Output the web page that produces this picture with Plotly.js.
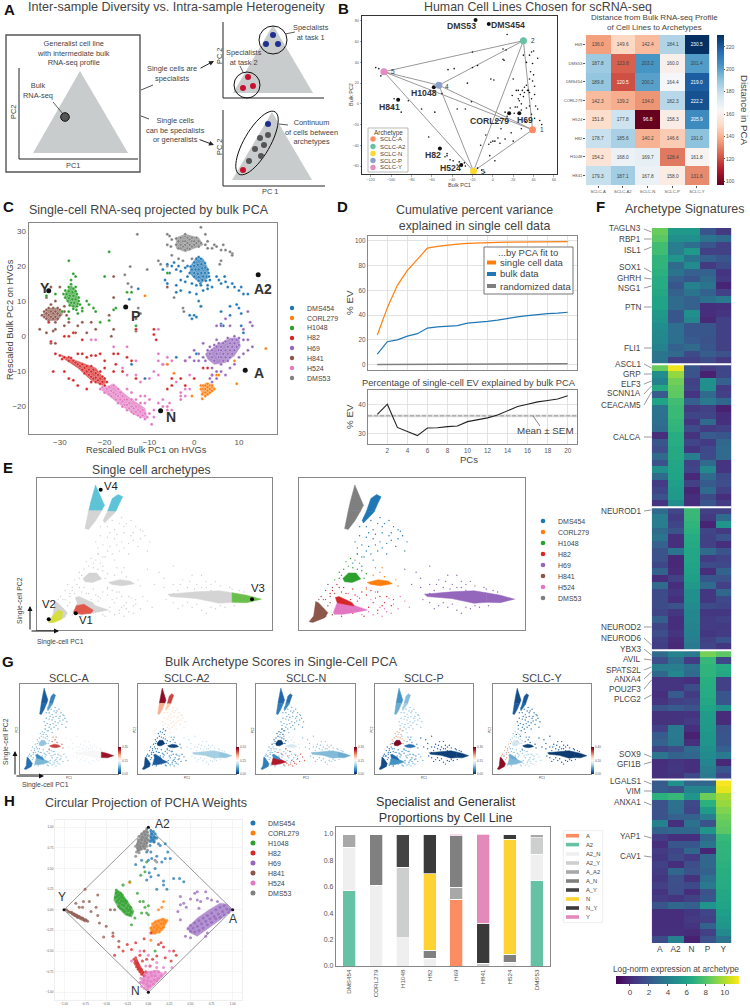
<!DOCTYPE html>
<html><head><meta charset="utf-8">
<script src="https://cdn.plot.ly/plotly-3.0.1.min.js"></script>
<style>html,body{margin:0;padding:0;background:#fff}#p{width:750px;height:1008px}</style></head>
<body><div id="p"></div>
<script>
// ---------- shared ----------
const lines=["DMS454","CORL279","H1048","H82","H69","H841","H524","DMS53"];
const lineColors=["#1f77b4","#ff7f0e","#2ca02c","#d62728","#9467bd","#8c564b","#e377c2","#7f7f7f"];
// ---------- panel B ----------
const bArchNames=["SCLC-A","SCLC-A2","SCLC-N","SCLC-P","SCLC-Y"];
const bArchColors=["#fc8d62","#66c2a5","#ffd92f","#8da0cb","#e78ac3"];
const bArchX=[39,30,-19,-53,-107];
const bArchY=[-25,61,-65,18,31];
const bLineX=[-17,-4,-93,-58,26,16,-52,-31];
const bLineY=[81,77,4,16,-9,-9,-43,-59];
const bDots=[[-115,35],[-112,34],[-110,27],[-98,-3],[-97,5],[-90,-8],[-83,3],[-70,-5],[-57,-8],[-63,-32],[-45,-48],[-47,-51],[-42,-54],[-39,-55],[-35,-59],[-27,-60],[-15,-62],[-11,-64],[-8,-66],[-4,-39],[-3,-50],[-2,-37],[0,-36],[2,-36],[5,-33],[7,-38],[2,-55],[-7,-30],[8,-24],[12,-34],[18,-28],[20,-36],[28,-24],[32,-17],[41,-14],[46,-16],[48,-20],[42,-2],[36,-2],[38,5],[41,9],[35,13],[30,7],[27,9],[25,5],[28,0],[22,-3],[21,-9],[17,-4],[12,-8],[14,-12],[7,-16],[3,-16],[26,3],[31,11],[34,13],[36,11],[23,13],[25,13],[29,13],[31,16],[33,18],[36,24],[37,31],[40,28],[39,22],[41,17],[30,47],[36,47],[40,51],[39,39],[44,44],[33,40],[38,50],[14,67],[13,52],[10,53],[10,43],[11,42],[-20,50],[-2,24],[-38,34],[-44,33],[-20,35],[-15,37],[-25,20],[-50,10],[-35,-5],[-27,-5],[-21,2],[1,23],[20,24],[-45,-50],[24,-3],[19,8],[28,-6],[33,-4],[38,-10],[44,-5],[-33,-56],[-28,-57],[-12,-40]];
const bCols=["SCLC-A","SCLC-A2","SCLC-N","SCLC-P","SCLC-Y"];
const bRows=["H69","DMS53","DMS454","CORL279","H524","H82","H1048","H841"];
const bZ=[[136.0,149.6,142.4,184.1,230.5],[187.8,123.8,203.2,160.0,201.4],[189.8,120.5,200.2,164.4,219.0],[142.3,139.2,134.0,182.3,222.2],[151.8,177.8,96.8,158.3,205.9],[178.7,185.6,140.2,146.6,191.0],[154.2,168.0,169.7,128.4,161.8],[179.3,187.1,167.8,158.0,131.6]];
// ---------- panel C ----------
const cDMS53=[[-4,26],[-3.5,27],[-3,28],[-3,26],[-3,25],[-2.5,27],[-2.5,25.5],[-2,28.5],[-2,27],[-2,26],[-2,24.5],[-1.5,28],[-1.5,26.5],[-1.5,25],[-1,27.5],[-1,26],[-1,24.8],[-0.5,28],[-0.5,27],[-0.5,25.5],[0,27],[0,26],[0.5,28],[0.5,26.5],[1,27],[1,25.5],[1.5,26.5],[-3.5,25],[-4,27.8],[-2,29],[1.5,31],[-6,29],[-5.5,28.5],[-5,27.5],[-5.2,25.5],[-6,26],[2.5,29],[3,27],[2.5,26],[3,25],[4.5,26],[4,25],[5,25.5],[6,24.5],[6.5,26],[7,24.5],[8,24],[8.5,23.5],[8.5,23],[6,21.5],[5.7,20.5],[-12.7,29],[-14.3,19.8],[-15.5,17.5],[-14.8,15],[-10.5,19],[-8,21.5],[-7.5,20.5],[-6,20],[-5,23],[-3.5,22],[-2.5,21.5],[-0.5,22],[-4.5,11],[-2.5,8],[-2.3,7],[1.5,8.5],[-12.5,8],[-12,6.5],[-14,14]];
const cDMS454=[[0,21],[0.5,22],[1,22.5],[1.5,22],[0,20],[0.8,20.3],[1.6,20.5],[2.4,20.8],[-0.5,19],[0.3,19],[1,19],[1.8,19.3],[2.5,19.5],[3,19],[-1,18],[0,18],[0.8,17.8],[1.6,18],[2.4,18],[3.2,18],[0,17],[1,16.8],[2,17],[2.8,17],[3.3,17],[1,15.8],[1.8,16],[2.6,15.8],[-0.8,19.8],[1.4,15],[-7,19],[-6,20.5],[-5.5,18],[-5,20],[-4.5,21],[-4,19],[-3.5,20],[-3,18.5],[-2,19.5],[-1.5,20],[-6.5,16],[-6,15],[-4,14.5],[-3,16],[-2,15.5],[-1.5,17],[-0.5,15],[0.5,14.5],[1.5,14.5],[3,14.5],[3.5,16],[4,14],[5,17],[5.5,16],[6,15],[6.8,17],[7,15.5],[7.5,14],[8.5,15],[9,14],[10,13],[10.5,14],[11,12],[12,12],[-4,12.5],[-3,13],[-1,12.5],[0.5,12],[2,13],[3,13.5],[1,10],[1.5,8.5],[-1,6],[-0.5,5],[0,6],[0.5,5.5],[-14.5,10.5],[-12.5,13.5],[-11,-12],[8,8.5],[9.5,9],[10,8],[10.5,6.5],[8,6],[6,7],[6,3.5],[6.5,3],[10.5,3],[11,1],[-14,-8],[-4,-6],[0.5,-5]];
const cH1048=[[-28,14],[-27.5,14.8],[-27,13.5],[-26.5,14],[-28.8,13],[-28,12.8],[-27.2,12.5],[-26.5,12.8],[-29.2,12],[-28.5,12],[-27.8,11.5],[-27,11.5],[-26.2,12],[-25.8,11],[-28.8,11],[-28,10.8],[-27.2,10.5],[-26.5,10.5],[-25.8,10],[-28.2,10],[-27.5,9.5],[-26.8,9.5],[-26,9.2],[-27.8,8.8],[-27,8.5],[-26.2,8.5],[-25.5,9],[-27,7.8],[-26.3,7.5],[-27.5,16],[-27,17.8],[-26.5,17],[-28,21.5],[-19,24],[-20,17],[-24,10],[-23.5,9],[-22.5,8],[-22,7],[-29.5,7],[-33,11.5],[-31,12],[-25,8],[-25,7.2],[-26,6.5],[-28,7],[-18,7.5],[-17.5,8],[-19,4.5],[-21,4],[-13,3],[-15,12.5],[-14,12.5],[-28,5],[-6,18]];
const cH82=[[-31,-5],[-30,-5.5],[-29.5,-6.5],[-29,-6],[-28,-6],[-28,-7],[-27.5,-6.2],[-27,-7],[-26.5,-7.5],[-26,-8],[-25.5,-8.5],[-25,-8],[-25,-9.5],[-24.5,-9],[-24.5,-10.5],[-24,-8.5],[-24,-10],[-23.5,-9.5],[-23.5,-11],[-23,-8.5],[-23,-10],[-23,-11.5],[-22.5,-9.5],[-22.5,-12],[-22,-10.5],[-22,-11.8],[-22,-13],[-21.5,-11],[-21.5,-12.5],[-21,-10],[-21,-12],[-21,-13.5],[-20.5,-11.5],[-20.5,-13],[-20,-12],[-20,-14],[-19.5,-13],[-26,-5],[-25,-5],[-24,-6],[-23,-5.5],[-22,-5.5],[-21,-5],[-20,-7],[-20,-9],[-18,-5],[-17,-5],[-15,-6],[-14,-7],[-32,-1.5],[-32.5,4],[-29,-10],[-31.5,-10],[-28,-12],[-27,-12.5],[-26,-14],[-24,-15],[-23,-13],[-18,-10],[-17.5,-8],[-16,-10],[-13,-12],[-27,1],[-29,0],[-28,0],[-25,-1],[-13,2],[-9,2],[-9,0.5],[-8.5,-1],[-7,-8],[-5,-12],[-3,-12],[-2,-7],[0,-12],[2,-9],[3,-9],[4,-11],[-2,-14],[-5,-14],[-6,-15]];
const cH69=[[3,-4],[3.5,-5],[3.5,-3],[4,-6],[4,-4],[4.5,-2.5],[4.5,-7],[5,-5],[5,-3],[5,-1],[5.5,-6],[5.5,-4],[5.5,-2],[6,-8],[6,-6],[6,-4],[6,-3],[6.5,-7],[6.5,-5],[6.5,-2],[7,-6],[7,-4],[7,-1.5],[7.5,-7],[7.5,-5],[7.5,-3],[7.5,-0.5],[8,-6],[8,-4],[8,-2],[8.5,-5],[8.5,-3],[8.5,-1],[9,-4],[9,-2],[9,0],[9.5,-3],[9.5,-1],[10,-2.5],[10,-0.5],[2,-6],[2.5,-7],[1,-7],[1,-5],[0,-4],[-1,-6],[-2,-7],[0,-7],[2,-2],[4,-9],[5,-10],[6,-10],[8,-9],[9,-8],[10,-6],[11,-5],[12,-4],[13,-3],[11,-1],[12,-1],[11,2],[7,5],[6,3],[8,3],[5,3],[12,7],[12.5,4],[13,3],[5,-12],[4,-11],[3.5,-12],[4,-13],[7,-11]];
const cH841=[[-34,6],[-33.5,7],[-33.5,5.5],[-33,7.5],[-33,6.5],[-33,5],[-32.5,8],[-32.5,6],[-32.5,4.5],[-32,7],[-32,5.5],[-31.5,8],[-31.5,6.5],[-31.5,5],[-31,7],[-31,5.5],[-31,4],[-30.5,6.5],[-30.5,5],[-30,7.5],[-30,6],[-29.5,7],[-29,7],[-30.5,8],[-32,9],[-31,10],[-33,11],[-30,14],[-32,14],[-34.5,2],[-33,1],[-31.5,1.5],[-31,2],[-29,3],[-28,4],[-28.5,6],[-25,4],[-26,3],[-26.5,1],[-23,4],[-22,2],[-24,1],[-31,-2],[-32,-2],[-29,8.5],[-18,17],[-19,6],[-18.5,-0],[-18,2],[-13,1.5],[-18,11],[-13,5],[-6,14]];
const cH524=[[-21,-15],[-20.5,-14.5],[-20,-16],[-19.5,-15],[-19,-16.5],[-19,-14.5],[-18.5,-17],[-18.5,-15.5],[-18,-16],[-18,-14],[-17.5,-18],[-17.5,-16.5],[-17,-19],[-17,-17],[-17,-15],[-16.5,-18],[-16.5,-16],[-16,-20],[-16,-18.5],[-16,-17],[-15.5,-19.5],[-15.5,-18],[-15,-21],[-15,-19.5],[-15,-18],[-14.5,-20.5],[-14.5,-19],[-14,-21.5],[-14,-20],[-14,-18],[-13.5,-22],[-13.5,-20.5],[-13,-21.5],[-13,-20],[-12.5,-22.5],[-12.5,-21],[-12,-23],[-12,-21.5],[-12,-19],[-11.5,-22.5],[-11.5,-21],[-11,-23.5],[-11,-22],[-11,-19],[-11,-17],[-10.5,-23],[-10,-22],[-9.5,-25],[-9,-23],[-10,-18],[-12,-17],[-14,-16],[-15,-15],[-13,-18],[-9,-21],[-8,-19],[-7,-18],[-7,-20],[-6,-20],[-6,-21],[-5.5,-19],[-5,-21],[-12,-13],[-13,-11],[-15,-11],[-16,-9],[-18,-3],[-22,-1],[-23,-1],[-8,-7],[-7,-8],[-6,-8],[-6,-6],[-5,-7],[-9,-10],[-8,-11],[-10,-12],[-4,-13],[-3,-16],[-3,-17],[-3,-18],[-2,-15],[-2,-17],[-1,-15],[-1,-11],[-13,-7],[-8,-5],[-8,2],[-15,-3]];
const cCORL279=[[1.5,-15],[1.5,-14],[2,-16],[2,-15],[2,-14],[2.5,-17],[2.5,-16],[2.5,-15],[2.5,-14],[3,-16.5],[3,-15.5],[3,-14.5],[3,-13.5],[3.5,-16],[3.5,-15],[3.5,-14],[4,-15.5],[4,-14.5],[4,-14],[1.8,-16.5],[4.5,-15],[-0.5,-17],[1.8,-17.8],[5,-11],[5.5,-11],[9.5,-13.5],[16,-3.5],[-6,-8],[-4.5,-10.5],[9,-7],[-11,11.5]];
const cCores=[
[7,[[-4,25],[-4,28],[-2,29],[1,28],[2,26],[0,25],[-2,24]]],
[0,[[-0.8,20],[0.5,22.5],[2,22],[3.2,19],[3,16.5],[1.5,15],[0,16.5],[-1,18]]],
[2,[[-29,12],[-27.5,14.5],[-26.3,13],[-25.8,9.5],[-26.5,8],[-27.5,8.5],[-28.5,10]]],
[5,[[-34,6],[-32.5,8],[-30.5,8],[-29.3,6.5],[-30.5,4.5],[-32.5,4.5]]],
[3,[[-30,-5.2],[-26,-7],[-22,-9],[-19.5,-13],[-20.5,-14],[-23,-12.5],[-26,-9],[-29,-6.5]]],
[6,[[-21,-15],[-18,-13.5],[-15,-17],[-11,-20.5],[-10.5,-23.5],[-13,-22.5],[-16,-20],[-19,-17]]],
[4,[[2.5,-5],[5,-2.5],[8,-0.5],[10,-0.5],[10.3,-3],[9,-5.5],[7,-7.5],[4.5,-8],[3,-6.5]]],
[1,[[1.3,-15],[2.5,-13.3],[4,-13.7],[4.7,-15],[3.5,-16.5],[2.2,-17]]]];
const cMarksX=[-32.5,14.3,-15.3,11.4,-7.5];
const cMarksY=[12.9,17.5,8.3,-9.7,-21.2];
// ---------- panel D ----------
const pcs=[1,2,3,4,5,6,7,8,9,10,11,12,13,14,15,16,17,18,19,20];
const evSingle=[24,46,64,76,85,94,95.5,96.5,97.3,97.8,98.2,98.5,98.7,98.8,98.9,99,99,99,99.1,99.2];
const evBulk=[8.5,18.5,20,23,25,29.5,30.5,31,31.5,33.5,34,35,36,37.5,38.5,39.5,40.5,41.2,41.6,42.3];
const evRandom=[0.05,0.1,0.1,0.15,0.2,0.25,0.3,0.3,0.35,0.4,0.45,0.5,0.5,0.55,0.6,0.6,0.65,0.7,0.75,0.8];
const evRatio=[36.5,40,32,30.5,29.2,31.8,31.9,32.3,32.5,34,34.6,35.3,36.3,37.8,39.2,40,40.8,41.3,41.8,42.9];
const evMean=36, evSem=0.5;
// ---------- panel E/G single-cell PCA (frame-percent units) ----------
const polyNames=["DMS53top","DMS53low","DMS454top","DMS454low","H1048","CORL279","H69L","H69R","H841","H524","H82"];
const polyPts=[
[[24.9,95.4],[26.5,90],[28.7,82.1],[27.5,78.5],[22,78.5],[22.9,84.3]],
[[22,78.5],[27.5,78.5],[25,72],[22,66.2],[20.4,66.7]],
[[34.5,89.2],[36.5,87.6],[35,83],[33.5,78],[30,78],[32,86.5]],
[[30,78],[33.5,78],[32.8,76.6],[28.7,70.4],[28.2,72.2]],
[[19.6,33.9],[22.1,37.5],[25.4,37.5],[27.5,33.5],[23.7,31.3],[20.4,31.7]],
[[30.4,31.3],[35.3,33.1],[39.5,32.2],[41.5,30.4],[36.2,29.1],[32,30]],
[[55.7,23.6],[67.7,25.1],[77.6,25.8],[83,24.5],[83,18.2],[77.6,17.6],[67.7,20.7],[56.9,22]],
[[83,24.5],[89.2,22.9],[95.5,20.3],[89.2,18],[83,18.2]],
[[4.7,5.5],[6.7,9.2],[7.6,18.7],[8.8,18],[13,11.4],[11.6,8.1],[6.3,5]],
[[15.4,11.4],[17.1,18],[21.2,18],[30.4,13.2],[26.2,11.9],[19.6,10.3],[15.9,10.3]],
[[16.3,21.4],[17.9,22],[23.7,18],[24.6,15.8],[20.4,17],[17.1,18]]];
const polyColors=["#7f7f7f","#7f7f7f","#1f77b4","#1f77b4","#2ca02c","#ff7f0e","#9467bd","#9467bd","#8c564b","#e377c2","#d62728"];
const eLeftColors=["#5cc4d6","#d4d4d4","#5cc4d6","#d4d4d4","#d4d4d4","#d4d4d4","#d4d4d4","#6abf4b","#d4d4d4","#d4d4d4","#d4d4d4"];
const eV1=[[15.4,11.4],[16.8,16],[20,17],[24,13],[23,11],[19,10.3]];
const eV2=[[5,5],[6.5,9],[9,13],[11,12],[10.5,7],[7,4.8]];
const eDMS454=[[29,74],[32,72],[36,74],[38,70],[42,68],[45,65],[46,62],[30,68],[33,66],[37,64],[40,62],[44,60],[48,58],[27,62],[30,61],[33,60],[36,58],[39,57],[43,55],[47,52],[28,56],[31,55],[35,52],[39,50],[26,50],[29,48],[33,46],[24,44],[28,42],[37,68],[41,64],[27,68],[35,70],[31,64],[25,58],[34,56],[41,59],[26,54],[37,54],[30,52],[32,50],[44,66],[40,72],[34,63]];
const eH1048=[[22,42],[24,41],[27,44],[20,40],[28,39],[25,46],[30,37],[18,38],[26,50],[29,34],[16,33],[19,36],[23,47],[21,45],[26,40],[28,48]];
const eCORL279=[[33,36],[36,38],[38,35],[34,41],[44,29],[30,27],[43,33],[37,41]];
const eH82=[[15,26],[18,28],[21,24],[24,27],[27,21],[30,23],[26,19],[33,18],[36,22],[22,32],[17,30],[14,24],[31,15],[29,9],[38,18],[35,13],[24,11],[41,16],[28,25],[12,20],[20,28],[25,23],[32,26],[35,25],[39,22],[19,25],[23,20],[34,21],[37,16],[42,20]];
const eH69=[[52,38],[54,34],[58,30],[62,33],[66,36],[70,36],[72,32],[60,26],[68,30],[74,30],[78,29],[64,28],[58,18],[60,14],[62,16],[66,15],[70,13],[72,11],[76,14],[80,15],[84,16],[86,26],[82,28],[76,32],[54,28],[50,30],[47,40],[58,42],[55,20],[65,32],[70,28],[72,28],[74,26],[67,27],[61,30],[68,17],[74,15],[78,16],[64,18],[58,24],[83,27],[88,25]];
const eH841=[[10,22],[12,26],[14,18],[16,24],[9,20],[13,30],[18,34],[11,14],[15,10],[17,16],[19,9],[12,9],[11,20],[14,22],[13,16],[15,28]];
const eH524=[[32,20],[36,15],[39,12],[42,17],[44,14],[47,19],[33,10],[28,10],[37,9],[26,22],[22,24],[45,22],[49,15],[34,25],[30,28],[40,21],[31,12],[35,11],[38,14],[41,11]];
const eMarkX=[27.1,91.5,16.5,5];
const eMarkY=[92.2,20.2,11,7];
const gNames=["SCLC-A","SCLC-A2","SCLC-N","SCLC-P","SCLC-Y"];
const gPolyScore=[
[.08,.1,.16,.22,.3,.84,.5,.93,.12,.27,.18],
[.95,.68,.84,.62,.02,.04,.33,.3,.05,.08,.08],
[.1,.15,.12,.18,.02,.42,.28,.25,.15,.9,.18],
[.2,.25,.28,.33,.97,.12,.03,.03,.05,.2,.1],
[.05,.08,.07,.1,.4,.03,.02,.02,.95,.28,.25]];
const gLineScore=[ // DMS454,CORL279,H1048,H82,H69,H841,H524
[.25,.8,.3,.28,.45,.3,.3],
[.6,.2,.15,.2,.38,.15,.2],
[.25,.4,.12,.3,.3,.25,.8],
[.3,.2,.7,.2,.1,.12,.25],
[.14,.1,.35,.3,.1,.7,.35]];
const gTicks=[[0,0.15,0.30],[0,0.25,0.50],[0,0.15,0.30],[0,0.15,0.30],[0,0.2,0.4]];
// ---------- panel F ----------
const fCols=["A","A2","N","P","Y"];
const fZ=[
[8.5,5.5,5.4,2,0.7],[8.2,5,5,3.5,3],[7.5,4,3.2,2,1],[7.5,4,5.5,1,1],[7,5.2,3.5,2.5,2],[7,3,4.7,0.7,1.5],[6.8,3.5,2.5,2.5,0.5],[6.5,2.5,2,3,0.7],[6.5,2,4.2,3.5,-0.2],[6.3,2.5,3.5,2.5,1],[6,3,2.5,3.3,3.8],[6,3,2.5,0.2,0.3],[5.5,2,5,0.2,0.5],[5.2,2,4.5,0,1],[4.8,3.2,2,2,1],[4.6,3.2,2,2,1],[4.5,3.3,2.2,1.8,1],[4.2,2.5,3,2,1],[3.5,3,1.5,2.3,1.8],[3.5,1,1,1.5,0.7],
[8.5,11.2,2,0.8,1.2],[4.8,9.4,1.8,-0.3,1.3],[4.2,8.7,1,5,2.5],[6.3,8.4,1.2,5,0.8],[2.2,8.3,0.5,3,1],[6,7.5,2.4,3.8,2.8],[3.5,7.3,0.7,1,-0.3],[3.4,7.3,1.2,1.2,0.2],[3.2,7.1,0.5,3,0.3],[3,7,1.5,0.8,1],[0.2,6.6,0.4,2.2,2],[2,6.6,1.2,0.8,2.8],[1.6,6.4,0.5,1.4,3],[3,6.4,4,1.5,3],[1.8,6.2,1,3,0.5],[5,6.1,1.2,4.6,0.5],[3,6,0,3,1.5],[0.8,5.8,1,2.2,1.6],[1.2,5.6,-0.1,3,1],[1.8,5.4,0.2,1.5,0.2],[0.5,4.8,0.2,2,0.8],
[3,1.3,7.3,1,1],[4,0.8,7.2,0.7,3],[4,1.2,7,-0.2,5.2],[3,1.8,6.8,1.2,0.7],[3.5,0.3,6.5,1,1.8],[2.5,0.3,6.4,1,0.3],[1.9,3.5,6.2,3,1.9],[1.8,0,6.2,0.8,1.2],[1.3,0,6,1.5,1.4],[2.6,0.1,5.9,0.2,2.6],[0.2,1,5.8,2,1.8],[3,0.2,5.5,3,1],[1.5,0.6,5,0.6,2.8],[1.5,0.3,5,0.6,1.4],[1.5,1.8,4.7,1.5,1.2],[1.2,0.6,4.5,0.6,0.6],[2.4,0.2,4.5,0.8,1],[1.2,0.2,4.3,0.8,0.7],[1.6,0.5,4.2,0.6,0.8],[1,0.1,4,1,1.8],[0.9,0,3.8,1.2,0.6],
[3,4.3,3.8,8.8,8.2],[1.6,3.2,0.8,7.2,1.3],[4,4,3.3,7,6.5],[2.8,4.5,3,7,6.3],[0.5,0.5,0.3,6.7,1],[0.5,0.5,1.5,6.6,1],[0.3,2.2,0.8,6.5,2],[0.5,1,1.2,6.3,2],[1.8,2.2,1.8,6,5],[0.4,0.4,0.5,5.7,0.1],[0.4,0.4,0.8,5.6,0.1],[1,3.8,0.3,5.5,1.8],[2.2,3.8,-0.3,5.3,2],[2.5,3.7,0.3,5.2,2],[1.2,1.6,3,5,2.5],[3.6,2.6,2.8,4.7,3.8],[0.2,0.5,0.3,4.4,0],[0.3,0.6,0.3,4,2],[0.3,0.4,1.4,3.8,1.2],
[2.2,5,2.8,2.8,11.4],[2.2,1.8,4.4,4.4,11],[6.8,7.2,5.2,8.6,9.8],[1.8,3.4,1.4,6.8,9.5],[1.8,3.2,1.2,5.6,9],[1.8,2.5,2.5,4,8.6],[4.2,0.3,3.4,1.8,8.4],[2.6,2.8,2.8,5.2,8.2],[0.8,0.3,0.3,2.8,7.2],[0.3,2,2,3.5,7],[0.8,1.2,2.8,-0.1,7],[0.6,1.5,0.8,2.8,6.9],[1,0.2,1.6,2.8,6.8],[0.8,2.8,1.8,2.5,6.7],[0.6,1.7,0.4,3.2,6.6],[1,1.6,1.4,3.8,6.5],[0.5,1.6,0.2,1.8,6.3],[0.8,0.5,1,2,6.2],[2,2.8,2.4,5.2,6],[0.2,0.2,0.6,1.2,5.8],[0.2,0.2,0.7,1,5.5],[0.2,0.2,0.5,2.6,5.2],[0.3,0.3,0.1,1,4.6],[1.5,4.2,-0.3,1.8,3.5]];
const fGeneNames=["TAGLN3","RBP1","ISL1","SOX1","GHRH","NSG1","PTN","FLI1","ASCL1","GRP","ELF3","SCNN1A","CEACAM5","CALCA","NEUROD1","NEUROD2","NEUROD6","YBX3","AVIL","SPATS2L","ANXA4","POU2F3","PLCG2","SOX9","GFI1B","LGALS1","VIM","ANXA1","YAP1","CAV1"];
const fGeneLabelY=[229,239,250,268,278,288,307,348,364,374,384,394,405,437,511,627,638,649,659,670,679,689,699,754,764,781,791,802,836,856];
const fGeneRowY=[232,239,247,272,279,286,307,348,368,374,381,386,392,437,510,627,645,655,660,667,672,680,695,757,762,784,791,805,838,857];
const fBlockRows=[20,21,21,19,24];
// ---------- panel H left ----------
const hAX=[1,0,-1,0], hAY=[0,1,0,-1];
const hDMS53=[[-0.02,0.98],[-0.05,0.95],[-0.01,0.94],[-0.08,0.92],[-0.04,0.91],[0,0.9],[-0.11,0.89],[-0.07,0.88],[-0.03,0.87],[-0.12,0.85],[-0.08,0.85],[-0.04,0.84],[0,0.85],[-0.12,0.82],[-0.09,0.81],[-0.05,0.8],[-0.02,0.81],[-0.13,0.79],[-0.1,0.77],[-0.06,0.77],[-0.13,0.75],[-0.09,0.74],[-0.04,0.74],[-0.12,0.72],[-0.15,0.77],[-0.14,0.7],[-0.11,0.69],[-0.15,0.65],[0.1,0.58],[0.08,0.6],[-0.02,0.77],[-0.01,0.72]];
const hDMS454=[[0.03,0.96],[0.06,0.95],[0.04,0.92],[0.08,0.92],[0.03,0.88],[0.07,0.88],[0.05,0.85],[0.1,0.87],[0.02,0.83],[0.07,0.82],[0.12,0.8],[0.02,0.78],[-0.02,0.7],[0.03,0.7],[0.14,0.78],[0.2,0.8],[0.23,0.7],[0.26,0.62],[0.2,0.62],[0.16,0.58],[0.1,0.65],[0.04,0.62],[0,0.6],[-0.08,0.6],[-0.15,0.55],[-0.05,0.52],[0.08,0.5],[0.12,0.42],[0.03,0.4],[0.18,0.35],[0.3,0.38],[0.37,0.38],[0.42,0.34],[0.22,0.25],[0.1,0.25],[0.18,0.3],[0.01,0.45],[-0.02,0.36]];
const hH1048=[[-0.38,0.2],[-0.37,0.16],[-0.36,0.22],[-0.36,0.12],[-0.35,0.18],[-0.34,0.08],[-0.34,0.14],[-0.33,0.2],[-0.33,0.02],[-0.32,0.11],[-0.32,0.16],[-0.31,0.06],[-0.31,0.18],[-0.3,0],[-0.3,0.1],[-0.3,0.14],[-0.29,0.05],[-0.28,0.12],[-0.28,-0.02],[-0.27,0.08],[-0.26,0.02],[-0.26,0.1],[-0.25,-0.05],[-0.24,0.05],[-0.24,-0.01],[-0.22,0],[-0.22,-0.06],[-0.2,-0.03],[-0.37,0.1],[-0.35,0.04],[-0.39,0.15],[-0.21,0.03],[-0.38,0.24],[-0.3,0.3],[-0.3,0.3],[-0.22,0.34],[-0.13,0.2],[-0.1,0.1],[-0.06,0.1],[-0.04,0.03],[-0.02,-0.04],[-0.08,-0.04],[0,-0.06],[-0.16,-0.1],[-0.2,-0.18],[0.08,-0.5],[-0.02,0.58],[-0.04,0.46],[-0.09,0.42],[0,0.05]];
const hCORL279=[[0.03,-0.22],[0.05,-0.17],[0.05,-0.25],[0.07,-0.21],[0.08,-0.15],[0.08,-0.27],[0.1,-0.19],[0.1,-0.24],[0.12,-0.14],[0.12,-0.21],[0.13,-0.27],[0.15,-0.17],[0.15,-0.23],[0.16,-0.12],[0.18,-0.17],[0.18,-0.21],[0.2,-0.15],[0.19,-0.12],[0.05,-0.28],[0.22,-0.13],[0.18,0.1],[0.16,0.03],[0.12,0],[-0.22,0.33],[0.03,-0.37]];
const hH82=[[-0.17,-0.6],[-0.16,-0.64],[-0.15,-0.66],[-0.14,-0.61],[-0.14,-0.69],[-0.13,-0.64],[-0.12,-0.72],[-0.12,-0.67],[-0.11,-0.7],[-0.1,-0.75],[-0.09,-0.72],[-0.08,-0.78],[-0.08,-0.73],[-0.06,-0.76],[-0.05,-0.8],[-0.03,-0.75],[-0.15,-0.58],[-0.1,-0.55],[-0.05,-0.5],[-0.02,-0.6],[-0.07,-0.62],[0.02,-0.68],[0.05,-0.6],[0.1,-0.56],[0.12,-0.42],[0.15,-0.4],[0.18,-0.45],[-0.25,-0.42],[-0.3,-0.5],[-0.35,-0.45],[-0.42,-0.32],[-0.4,-0.55],[-0.2,-0.48],[-0.15,-0.4],[0.3,-0.5],[0.33,-0.55],[0.2,-0.58],[0.27,-0.62],[-0.05,-0.35],[0.03,-0.28]];
const hH69=[[0.47,-0.23],[0.5,-0.26],[0.5,-0.19],[0.53,-0.22],[0.55,-0.16],[0.55,-0.27],[0.58,-0.2],[0.6,-0.13],[0.6,-0.25],[0.63,-0.17],[0.65,-0.1],[0.65,-0.22],[0.68,-0.14],[0.7,-0.07],[0.7,-0.18],[0.73,-0.11],[0.75,-0.04],[0.75,-0.15],[0.78,-0.08],[0.8,0],[0.8,-0.11],[0.83,-0.05],[0.85,0.03],[0.85,-0.09],[0.88,-0.02],[0.9,0.05],[0.9,-0.06],[0.93,0.01],[0.95,-0.03],[0.97,0],[0.58,0.12],[0.55,0.2],[0.58,0.22],[0.68,0.22],[0.7,0.14],[0.62,0.1],[0.75,0.12],[0.82,0.1],[0.38,0.16],[0.38,0.06],[0.42,0.08],[0.35,-0.02],[0.38,-0.12],[0.44,-0.32],[0.5,-0.34],[0.7,-0.28],[0.68,-0.32],[0.45,0.03],[0.5,0.13],[0.6,0.02]];
const hH841=[[-0.97,0],[-0.95,-0.02],[-0.93,-0.03],[-0.91,-0.03],[-0.9,-0.05],[-0.88,-0.05],[-0.87,-0.07],[-0.85,-0.07],[-0.84,-0.09],[-0.82,-0.08],[-0.8,-0.1],[-0.78,-0.1],[-0.76,-0.12],[-0.74,-0.12],[-0.72,-0.14],[-0.86,0.08],[-0.82,0.03],[-0.78,0.03],[-0.77,0.1],[-0.75,0.25],[-0.7,0.1],[-0.68,-0.02],[-0.62,0.03],[-0.6,0.18],[-0.58,-0.16],[-0.6,-0.07],[-0.53,-0.33],[-0.45,0],[-0.4,0],[-0.42,-0.28],[-0.35,-0.38],[-0.5,-0.2]];
const hH524=[[-0.08,-0.93],[-0.05,-0.95],[-0.02,-0.97],[0,-0.93],[-0.06,-0.88],[-0.02,-0.9],[0.02,-0.92],[0.06,-0.9],[0.1,-0.86],[-0.09,-0.83],[-0.05,-0.85],[-0.01,-0.86],[0.03,-0.87],[0.07,-0.85],[0.12,-0.83],[0.15,-0.8],[-0.04,-0.8],[0,-0.82],[0.04,-0.8],[0.08,-0.8],[-0.02,-0.76],[0.03,-0.76],[0.07,-0.75],[0.12,-0.75],[-0.1,-0.88],[0.2,-0.76],[0.18,-0.7],[0.28,-0.7],[0.02,-0.68],[-0.03,-0.68],[0.1,-0.7],[0.1,-0.64],[-0.1,-0.5],[-0.2,-0.62],[0.25,-0.5],[0,-0.55]];
const hCores=[
[2,[[-0.39,0.24],[-0.33,0.22],[-0.24,0.1],[-0.17,-0.02],[-0.2,-0.09],[-0.28,-0.06],[-0.36,0.03],[-0.41,0.12]]],
[1,[[0.02,-0.22],[0.08,-0.13],[0.18,-0.1],[0.22,-0.15],[0.17,-0.25],[0.08,-0.3],[0.03,-0.28]]],
[4,[[0.46,-0.22],[0.58,-0.1],[0.72,0],[0.85,0.08],[0.93,0.07],[0.99,0],[0.88,-0.1],[0.72,-0.22],[0.58,-0.32],[0.5,-0.28]]],
[5,[[-0.98,0],[-0.85,-0.05],[-0.72,-0.13],[-0.75,-0.15],[-0.88,-0.08]]],
[6,[[0,-0.98],[0.2,-0.78],[0.1,-0.73],[-0.03,-0.75],[-0.1,-0.88]]],
[3,[[-0.17,-0.6],[-0.12,-0.63],[-0.05,-0.76],[-0.07,-0.8],[-0.13,-0.72]]],
[0,[[0.02,0.96],[0.1,0.88],[0.07,0.81],[0.02,0.82]]],
[7,[[-0.01,0.98],[0,0.82],[-0.04,0.74],[-0.13,0.7],[-0.14,0.8],[-0.08,0.92]]]];
// ---------- panel H right ----------
const barLines=["DMS454","CORL279","H1048","H82","H69","H841","H524","DMS53"];
const barA=[0,0,0,0,.505,0,0,0];
const barA2=[.57,0,0,0,0,0,0,.65];
const barA2_N=[.33,.61,.215,.06,0,0,.03,.195];
const barA2_Y=[0,0,.535,0,0,.02,0,.125];
const barA_A2=[.10,0,0,0,.09,0,0,.03];
const barA_N=[0,.39,0,.06,.39,0,.06,0];
const barA_Y=[0,0,.25,0,0,0,0,0];
const barN=[0,0,0,.58,0,0,.87,0];
const barN_Y=[0,0,0,.30,0,.305,.04,0];
const barY=[0,0,0,0,0.015,.675,0,0];
const barNames=["A","A2","A2_N","A2_Y","A_A2","A_N","A_Y","N","N_Y","Y"];
const barSeries=[barA,barA2,barA2_N,barA2_Y,barA_A2,barA_N,barA_Y,barN,barN_Y,barY];
const barColors=["#fc8d62","#66c2a5","#efefef","#cdcfcf","#a8a8a8","#808080","#444444","#ffd233","#3a3a3a","#e38abb"];

// ---------- helpers ----------
const W=750,H=1008,FONT="Liberation Sans, Arial, sans-serif",TXT="#444";
const fx=x=>x/W, fy=y=>1-y/H;
const traces=[],shapes=[],anns=[],layout={width:W,height:H,margin:{l:0,r:0,t:0,b:0,pad:0},paper_bgcolor:"#fff",plot_bgcolor:"#fff",showlegend:false,font:{family:FONT,color:TXT},shapes,annotations:anns};
let axN=0;
function axes(x0,y0,x1,y1,xo,yo){axN++;const s=axN===1?"":axN;
 const base={showgrid:false,zeroline:false,showline:true,mirror:true,linecolor:"#888",linewidth:1,ticks:"",fixedrange:true};
 layout["xaxis"+s]=Object.assign({},base,{domain:[fx(x0),fx(x1)],anchor:"y"+s},xo);
 layout["yaxis"+s]=Object.assign({},base,{domain:[fy(y1),fy(y0)],anchor:"x"+s},yo);
 return {xaxis:"x"+s,yaxis:"y"+s};}
function T(x,y,text,size,o){o=o||{};anns.push({xref:"paper",yref:"paper",x:fx(x),y:fy(y),text,showarrow:false,xanchor:o.a||"center",yanchor:"middle",align:o.align||(o.a==="left"?"left":o.a==="right"?"right":"center"),textangle:o.rot||0,font:{family:FONT,size,color:o.c||TXT,weight:o.w||400}});}
function L(x0,y0,x1,y1,c,w,dash){shapes.push({type:"line",xref:"paper",yref:"paper",x0:fx(x0),y0:fy(y0),x1:fx(x1),y1:fy(y1),line:{color:c||"#333",width:w||0.8,dash:dash||"solid"},layer:"above"});}
function C(cx,cy,r,fill,line,lw){shapes.push({type:"circle",xref:"paper",yref:"paper",x0:fx(cx-r),x1:fx(cx+r),y0:fy(cy+r),y1:fy(cy-r),fillcolor:fill||"rgba(0,0,0,0)",line:{color:line||fill,width:lw===undefined?0:lw},layer:"above"});}
function R(x0,y0,x1,y1,fill,line,lw){shapes.push({type:"rect",xref:"paper",yref:"paper",x0:fx(x0),x1:fx(x1),y0:fy(y1),y1:fy(y0),fillcolor:fill||"rgba(0,0,0,0)",line:{color:line||"rgba(0,0,0,0)",width:lw||0},layer:"above"});}
function P(pts,fill,line,lw){shapes.push({type:"path",xref:"paper",yref:"paper",path:"M"+pts.map(p=>fx(p[0])+","+fy(p[1])).join("L")+"Z",fillcolor:fill||"rgba(0,0,0,0)",line:{color:line||"rgba(0,0,0,0)",width:lw||0},layer:"above"});}
function Arrow(x0,y0,x1,y1,c){anns.push({xref:"paper",yref:"paper",x:fx(x1),y:fy(y1),ax:x0-x1,ay:y0-y1,axref:"pixel",ayref:"pixel",text:"",showarrow:true,arrowhead:2,arrowsize:1,arrowwidth:1,arrowcolor:c||"#222"});}
function Ell(cx,cy,a,b,deg,line,lw){const t=deg*Math.PI/180,pts=[];for(let i=0;i<48;i++){const u=i/48*2*Math.PI,ex=a*Math.cos(u),ey=b*Math.sin(u);pts.push([cx+ex*Math.cos(t)-ey*Math.sin(t),cy+ex*Math.sin(t)+ey*Math.cos(t)]);}P(pts,null,line,lw);}
const xs=a=>a.map(p=>p[0]), ys=a=>a.map(p=>p[1]);
function pts(ax,arr,color,size,extra,lw){traces.push(Object.assign({type:"scatter",mode:"markers",x:xs(arr),y:ys(arr),hoverinfo:"skip",marker:{color,size,line:{width:lw||0,color:"#fff"}}},ax,extra||{}));}
const RDBU=[[0,'#67001f'],[.1,'#b2182b'],[.2,'#d6604d'],[.3,'#f4a582'],[.4,'#fddbc7'],[.5,'#f7f7f7'],[.6,'#d1e5f0'],[.7,'#92c5de'],[.8,'#4393c3'],[.9,'#2166ac'],[1,'#053061']];
const RDBUR=RDBU.map(s=>[+(1-s[0]).toFixed(1),s[1]]).reverse();
function scaleColor(v){const h=c=>[1,3,5].map(i=>parseInt(c.substr(i,2),16));for(let i=1;i<RDBUR.length;i++){if(v<=RDBUR[i][0]){const a=RDBUR[i-1],b=RDBUR[i],t=(v-a[0])/(b[0]-a[0]),A=h(a[1]),B=h(b[1]);return "rgb("+A.map((q,k)=>Math.round(q+(B[k]-q)*t)).join(",")+")";}}return RDBUR[10][1];}
function poly(ax,arr,color,opacity){const c=arr.concat([arr[0]]);traces.push(Object.assign({type:"scatter",mode:"lines",x:xs(c),y:ys(c),fill:"toself",fillcolor:color,opacity:opacity===undefined?1:opacity,line:{color,width:0.5},hoverinfo:"skip"},ax));}
function panelLabel(x,y,t){T(x,y,t,15,{w:700,c:"#111"});}
const tf=(s,c)=>({family:FONT,size:s,color:c||"#555"});

// Panel labels
panelLabel(9,10,"A");panelLabel(343,9,"B");panelLabel(8,207,"C");panelLabel(342,207,"D");panelLabel(8,467,"E");panelLabel(600,207,"F");panelLabel(8,661,"G");panelLabel(9,800,"H");

// ---------- A ----------
const sA=7.4;
T(176,7,"Inter-sample Diversity vs. Intra-sample Heterogeneity",12.6);
R(6,35,140,172,null,"#555",1.4);
P([[80,71],[33,153],[128,153]],"#c9cccc");
L(19,68,19,159,"#222",1);L(19,159,138,159,"#222",1);
T(73,53,"Generalist cell line<br>with intermediate bulk<br>RNA-seq profile",sA);
T(38,90,"Bulk<br>RNA-seq",sA);L(53,102,63,114);C(65,117,4.3,"#555","#111",1);
T(13,112,"PC2",sA,{rot:-90});T(73,166,"PC1",sA);
T(172,74,"Single cells are<br>specialists",sA);L(141,90,153,85,"#222",0.8);Arrow(199,69,214,61);
T(175,130,"Single cells<br>can be specialists<br>or generalists",sA);L(141,116,149,119,"#222",0.8);Arrow(198,139,214,145);
// top right schema
P([[273,25],[233,93],[313,93]],"#c9cccc");L(223,22,223,98,"#222",1);L(223,98,324,98,"#222",1);
C(273,40,14,null,"#111",1);C(247,85,13,null,"#111",1);
[[273,35],[266,44],[278,44]].forEach(p=>C(p[0],p[1],3,"#1f2f8f"));
[[248,77],[243,88],[253,86]].forEach(p=>C(p[0],p[1],3,"#c8102e"));
T(311,32,"Specialists<br>at task 1",sA);L(295,32,285,34);T(244,57,"Specialists<br>at task 2",sA);L(240,66,243,72);
T(219,56,"PC 2",sA,{rot:-90});T(270,191,"PC 1",sA);
// bottom right schema
P([[272,112],[232,180],[312,180]],"#c9cccc");L(223,110,223,186,"#222",1);L(223,186,325,186,"#222",1);
Ell(257,143,36,13,-60,"#111",1);
[[268,135],[260,138],[264,145],[255,149],[261,156],[249,161]].forEach(p=>C(p[0],p[1],3,"#555"));
C(268,124,3,"#1f2f8f");C(243,170,3,"#c8102e");
T(311,132,"Continuum<br>of cells between<br>archetypes",sA);L(288,125,279,124);
T(219,147,"PC 2",sA,{rot:-90});

// ---------- B scatter ----------
T(538,7,"Human Cell Lines Chosen for scRNA-seq",12.4);
const axB=axes(362,16,557,174,{range:[-128.5,63],tickvals:[-120,-100,-80,-60,-40,-20,0,20,40,60],tickfont:tf(3.6),ticks:"outside",ticklen:1.5,tickcolor:"#555",linecolor:"#333",tickwidth:.5},{range:[-67.7,84.8],tickvals:[-60,-40,-20,0,20,40,60,80],tickfont:tf(3.6),ticks:"outside",ticklen:1.5,tickcolor:"#555",linecolor:"#333",tickwidth:.5});
T(460,185,"Bulk PC1",5.5);T(351,95,"Bulk PC2",5.5,{rot:-90});
const edgeX=[],edgeY=[];for(let i=0;i<5;i++)for(let j=i+1;j<5;j++){edgeX.push(bArchX[i],bArchX[j],null);edgeY.push(bArchY[i],bArchY[j],null);}
traces.push(Object.assign({type:"scatter",mode:"lines",x:edgeX,y:edgeY,line:{color:"#999",width:1},hoverinfo:"skip"},axB));
pts(axB,bDots,"#111",1.6);
traces.push(Object.assign({type:"scatter",mode:"markers",x:bLineX,y:bLineY,marker:{color:"#111",size:4},hoverinfo:"skip"},axB));
traces.push(Object.assign({type:"scatter",mode:"markers",x:bArchX,y:bArchY,marker:{color:bArchColors,size:7},hoverinfo:"skip"},axB));
[["DMS53",461,26],["DMS454",508,25],["H841",389,107],["H1048",424,93],["CORL279",489,121],["H69",525,120],["H82",433,155],["H524",450,168]].forEach(l=>T(l[1],l[2],l[0],8.7,{w:700,c:"#333"}));
[["1",542,129],["2",533,41],["3",483,171],["4",447,86],["5",393,72]].forEach(l=>T(l[1],l[2],l[0],6.5,{c:"#333"}));
R(368,128,408,172,"rgba(255,255,255,.9)","#aaa",0.8);T(388,133,"Archetype",6.4);
[139,146.5,153.5,160.5,167.5].forEach((y,i)=>{C(373,y,2.7,bArchColors[i]);T(378,y,bArchNames[i],6,{a:"left"});});
// ---------- B heatmap ----------
T(654,22.5,"Distance from Bulk RNA-seq Profile<br>of Cell Lines to Archetypes",8);
const axBH=axes(585.7,35,709.3,185,{type:"category",tickfont:tf(4.2),ticks:"outside",ticklen:1.5,showline:false,tickcolor:"#555"},{type:"category",autorange:"reversed",tickfont:tf(4.2),ticks:"outside",ticklen:1.5,showline:false,tickcolor:"#555"});
traces.push(Object.assign({type:"heatmap",x:bCols,y:bRows,z:bZ,colorscale:RDBU,zmin:96.8,zmax:230.5,texttemplate:"%{z:.1f}",textfont:{size:4.8,family:FONT},hoverinfo:"skip",xgap:0,ygap:0,
 colorbar:{x:fx(716.7),xanchor:"left",y:fy(35),yanchor:"top",len:150/H,thickness:6.5,xpad:0,ypad:0,outlinewidth:0,tickvals:[100,120,140,160,180,200,220],tickfont:tf(5),ticks:"outside",ticklen:1.5,tickcolor:"#555"}},axBH));
T(745,110,"Distance in PCA",9.6,{rot:90});

// ---------- C ----------
T(149,210,"Single-cell RNA-seq projected by bulk PCA",12.5);
const axC=axes(29,223,277,434,{range:[-36.9,18.5],tickvals:[-30,-20,-10,0,10],tickfont:tf(8),linewidth:1.4},{range:[-27.8,32.2],tickvals:[-20,-10,0,10,20,30],tickfont:tf(8),linewidth:1.4});
T(146,450,"Rescaled Bulk PC1 on HVGs",9.3);T(10,320,"Rescaled Bulk PC2 on HVGs",9.3,{rot:-90});
cCores.forEach(c=>poly(axC,c[1],lineColors[c[0]],.75));
[[cDMS53,7],[cDMS454,0],[cH841,5],[cH1048,2],[cH82,3],[cH69,4],[cH524,6],[cCORL279,1]].forEach(d=>pts(axC,d[0],lineColors[d[1]],3,null,.3));
traces.push(Object.assign({type:"scatter",mode:"markers",x:cMarksX,y:cMarksY,marker:{color:"#111",size:5},hoverinfo:"skip"},axC));
[["Y",45,288],["A2",263,289],["P",135,316],["A",259,373],["N",171,417]].forEach(l=>T(l[1],l[2],l[0],14,{w:700,c:"#333"}));
lines.forEach((n,i)=>{C(292,308+i*10,2.2,lineColors[i]);T(305,308+i*10,n,7,{a:"left"});});

// ---------- D ----------
T(474,217.5,"Cumulative percent variance<br>explained in single cell data",12.4);
const gridD={showgrid:true,gridcolor:"#dcdcdc",gridwidth:.8};
const axD1=axes(368,236,577,370,Object.assign({range:[0.07,20.93],tickvals:[2,4,6,8,10,12,14,16,18,20],showticklabels:false,linewidth:1.2},gridD),Object.assign({range:[-4.3,103.8],tickvals:[0,20,40,60,80,100],tickfont:tf(6.3),linewidth:1.2},gridD));
const lt=(ax,y,c,w)=>traces.push(Object.assign({type:"scatter",mode:"lines",x:pcs,y,line:{color:c,width:w||1.2},hoverinfo:"skip"},ax));
lt(axD1,evSingle,"#ff7f0e");lt(axD1,evBulk,"#1f77b4");lt(axD1,evRandom,"#7f7f7f",1.5);
const axD2=axes(368,390,577,444,Object.assign({range:[0.07,20.93],tickvals:[2,4,6,8,10,12,14,16,18,20],tickfont:tf(6.3),linewidth:1.2},gridD),Object.assign({range:[26.3,44.9],tickvals:[30,40],tickfont:tf(6.5),linewidth:1.2},gridD));
traces.push(Object.assign({type:"scatter",mode:"lines",x:[0.07,20.93,20.93,0.07,0.07],y:[evMean-evSem,evMean-evSem,evMean+evSem,evMean+evSem,evMean-evSem],fill:"toself",fillcolor:"#ddd",line:{width:0},hoverinfo:"skip"},axD2));
traces.push(Object.assign({type:"scatter",mode:"lines",x:[0.07,20.93],y:[evMean,evMean],line:{color:"#999",width:1,dash:"4px,2px"},hoverinfo:"skip"},axD2));
lt(axD2,evRatio,"#222",1.1);
T(349,303,"% EV",9.8,{rot:-90});T(349,417,"% EV",9.8,{rot:-90});T(469,460,"PCs",9.5);
T(469,383,"Percentage of single-cell EV explained by bulk PCA",9.3);
T(545,430,"Mean ± SEM",9.8);L(533,416,540,426,"#555",.7);
R(484,247,573,294,"#fff","#777",1);T(528,252.5,"...by PCA fit to",9.5);
[["single cell data","#ff7f0e",262.5],["bulk data","#1f77b4",274],["randomized data","#7f7f7f",286]].forEach(r=>{R(487,r[2]-2,496,r[2]+2,r[1]);T(498,r[2],r[0],9.5,{a:"left"});});

// ---------- E ----------
T(151,470,"Single cell archetypes",12.2);
const hid={range:[0,100],showticklabels:false};
const axE1=axes(37,478,272,630,hid,hid), axE2=axes(298.5,478,524.7,630,hid,hid);
const allE=[eDMS454,eCORL279,eH1048,eH82,eH69,eH841,eH524];
allE.forEach(a=>pts(axE1,a,"#cfcfcf",1.4));
polyPts.forEach((p,i)=>poly(axE1,p,eLeftColors[i]));
poly(axE1,eV1,"#e2574c");poly(axE1,eV2,"#d6de3f");
traces.push(Object.assign({type:"scatter",mode:"markers",x:eMarkX,y:eMarkY,marker:{color:"#000",size:4},hoverinfo:"skip"},axE1));
[["V4",111,486],["V3",258,588],["V2",49,604],["V1",86,620]].forEach(l=>T(l[1],l[2],l[0],11.3,{c:"#222"}));
allE.forEach((a,i)=>pts(axE2,a,lineColors[i],1.4));
polyPts.forEach((p,i)=>poly(axE2,p,polyColors[i]));
lines.forEach((n,i)=>{C(543,529+i*11-8,2.3,lineColors[i]);T(556,529+i*11-8,n,7,{a:"left"});});
Arrow(30,631,30,606,"#111");Arrow(30,631,59,631,"#111");
T(20,601,"Single-cell PC2",6.8,{rot:-90});T(60,642,"Single-cell PC1",6.8);

// ---------- G ----------
T(281.5,662,"Bulk Archetype Scores in Single-Cell PCA",12.5);
const gX=[19.6,137.7,256.3,374.5,492.7];
gNames.forEach((n,k)=>{
 const x0=gX[k],x1=x0+98.5,ax=axes(x0,684,x1,774,hid,hid);
 T((x0+x1)/2,678,n,10.8);
 T(x0-3,730,"PC2",3,{rot:-90});T((x0+x1)/2,777.5,"PC1",3);
 const px=[],py=[],pc=[];allE.forEach((a,i)=>a.forEach(q=>{px.push(q[0]);py.push(q[1]);pc.push(gLineScore[k][i]);}));
 traces.push(Object.assign({type:"scatter",mode:"markers",x:px,y:py,hoverinfo:"skip",marker:{size:1.4,color:pc,cmin:0,cmax:1,colorscale:RDBUR,showscale:true,
  colorbar:{x:fx(x1-0.5),xanchor:"left",y:fy(747),yanchor:"top",len:27/H,thickness:2.5,xpad:0,ypad:0,outlinewidth:0,tickmode:"array",tickvals:gTicks[k].map((v,i)=>i/2),ticktext:gTicks[k].map(v=>v.toFixed(2)),tickfont:tf(3),ticks:"",ticklabelposition:"outside"}}},ax));
 polyPts.forEach((p,i)=>poly(ax,p,scaleColor(gPolyScore[k][i])));
});
T(6,742,"Single-cell PC2",6.8,{rot:-90});Arrow(15,776,15,751,"#111");Arrow(15,776,44,776,"#111");T(45,785,"Single-cell PC1",6.8);

// ---------- F ----------
T(685,209,"Archetype Signatures",12.5);
const axF=axes(651.7,228,731.3,943,{type:"category",side:"bottom",showline:false,tickfont:tf(8.3,"#444"),ticks:""},{range:[104.5,-0.5],showline:false,showticklabels:false});
traces.push(Object.assign({type:"heatmap",x:fCols,y:fZ.map((_,i)=>i),z:fZ,zmin:-1.47,zmax:11.5,colorscale:"Viridis",hoverinfo:"skip",
 colorbar:{orientation:"h",x:fx(677.5),xanchor:"center",y:fy(975.7),yanchor:"top",len:123/W,thickness:8.3,xpad:0,ypad:0,outlinewidth:0,tickvals:[0,2,4,6,8,10],tickfont:tf(8,"#444"),ticks:"outside",ticklen:2,tickcolor:"#555"}},axF));
{let r=0;const rh=715/105;fBlockRows.slice(0,4).forEach(n=>{r+=n;L(651.7,228+r*rh,731.3,228+r*rh,"#fff",2);});}
fGeneNames.forEach((g,i)=>{T(643,fGeneLabelY[i],g,8.2,{a:"right"});L(644,fGeneLabelY[i],651.5,fGeneRowY[i],"#555",.6);});
T(676,969,"Log-norm expression at archetype",8.3);

// ---------- H left ----------
T(146,803,"Circular Projection of PCHA Weights",12.5);
const tk25=[-1,-.75,-.5,-.25,0,.25,.5,.75,1];
const gridH={showgrid:true,gridcolor:"#eee",gridwidth:.6,linecolor:"#eee",tickfont:tf(3)};
const axH=axes(55,820,241.7,1000,Object.assign({range:[-1.107,1.107],tickvals:tk25,tickformat:".2f"},gridH),Object.assign({range:[-1.093,1.088],tickvals:tk25,tickformat:".2f"},gridH));
traces.push(Object.assign({type:"scatter",mode:"lines",x:hAX.concat(hAX[0]),y:hAY.concat(hAY[0]),line:{color:"#999",width:1},hoverinfo:"skip"},axH));
hCores.forEach(c=>poly(axH,c[1],lineColors[c[0]],.7));
[[hDMS454,0],[hDMS53,7],[hH1048,2],[hCORL279,1],[hH82,3],[hH69,4],[hH841,5],[hH524,6]].forEach(d=>pts(axH,d[0],lineColors[d[1]],3,{opacity:.75}));
traces.push(Object.assign({type:"scatter",mode:"markers",x:hAX,y:hAY,marker:{color:"#111",size:3},hoverinfo:"skip"},axH));
[["A2",162,824],["Y",62,897],["A",233,919],["N",135,991]].forEach(l=>T(l[1],l[2],l[0],12,{c:"#333"}));
lines.forEach((n,i)=>{C(253,823+i*10,2.5,lineColors[i]);T(266,823+i*10,n,7,{a:"left"});});

// ---------- H right ----------
T(446,809.5,"Specialist and Generalist<br>Proportions by Cell Line",12.6,{c:"#333"});
const axS=axes(336,827,550,966,{type:"category",tickangle:-90,tickfont:tf(6.2),linewidth:1.2},{range:[0,1.053],tickvals:[0,.2,.4,.6,.8,1],tickformat:".1f",tickfont:tf(7),linewidth:1.2});
layout.barmode="stack";layout.bargap=0.52;
barSeries.forEach((s,i)=>traces.push(Object.assign({type:"bar",x:barLines,y:s,marker:{color:barColors[i],line:{color:"#fff",width:.7}},hoverinfo:"skip"},axS)));
R(563.3,830.7,602.7,922.7,"#fff","#e8e8e8",.8);
[835.7,844.6,854,863,872,881,890,899,908,917].forEach((y,i)=>{R(566,y-1.8,579,y+1.8,barColors[i]);T(584,y,barNames[i],5.8,{a:"left"});});

Plotly.newPlot("p",traces,layout,{staticPlot:true,displayModeBar:false});
</script></body></html>
